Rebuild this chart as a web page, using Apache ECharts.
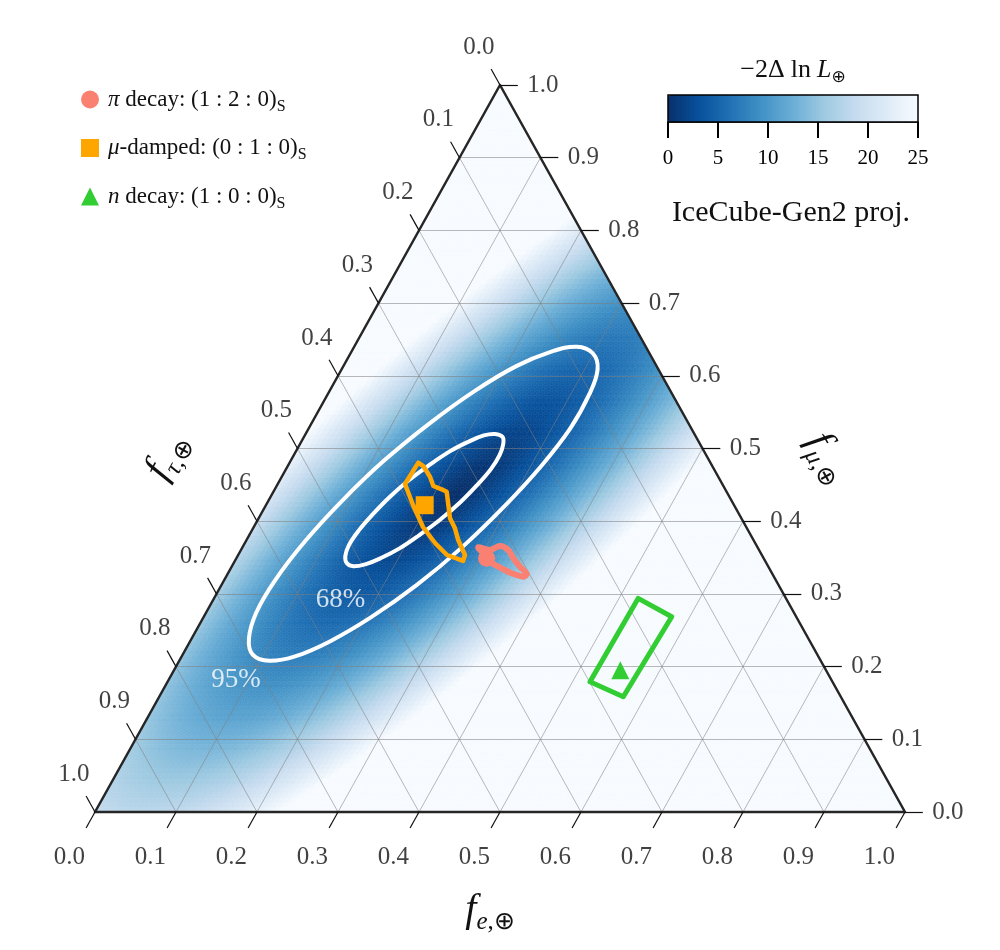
<!DOCTYPE html>
<html>
<head>
<meta charset="utf-8">
<script src="https://cdn.jsdelivr.net/npm/echarts@6/dist/echarts.min.js"></script>
<style>
  html, body { margin: 0; padding: 0; background: #fff; }
  #chart { width: 1000px; height: 950px; }
</style>
</head>
<body>
<div id="chart"></div>
<script>
// points are [f_e, f_mu]; f_tau = 1 - f_e - f_mu
var ticks = [0, 0.1, 0.2, 0.3, 0.4, 0.5, 0.6, 0.7, 0.8, 0.9, 1.0];
var tickLabels = ["0.0", "0.1", "0.2", "0.3", "0.4", "0.5", "0.6", "0.7", "0.8", "0.9", "1.0"];
var cbTicks = [0, 5, 10, 15, 20, 25];

// likelihood surface: minimum, two axis vectors ([f_e, f_mu]) and growth
var fieldCenter = [0.229, 0.440];
var fieldMajor = [0.113, 0.2215];
var fieldMinor = [0.078, -0.060];
var fieldScale = 7.7;
var fieldPower = 1.29;

var contour95 = [[0.299, 0.631], [0.316, 0.609], [0.323, 0.574], [0.323, 0.528], [0.313, 0.476], [0.295, 0.420],
  [0.271, 0.364], [0.241, 0.312], [0.207, 0.268], [0.173, 0.235], [0.140, 0.214], [0.111, 0.208],
  [0.087, 0.216], [0.071, 0.238], [0.062, 0.274], [0.063, 0.319], [0.073, 0.372], [0.091, 0.428],
  [0.115, 0.483], [0.146, 0.535], [0.179, 0.579], [0.213, 0.613], [0.246, 0.633], [0.275, 0.640]];
var contour68 = [[0.245, 0.516], [0.251, 0.506], [0.254, 0.491], [0.253, 0.472], [0.247, 0.450], [0.238, 0.426],
  [0.225, 0.402], [0.210, 0.381], [0.195, 0.363], [0.178, 0.349], [0.164, 0.341], [0.150, 0.338],
  [0.140, 0.342], [0.133, 0.352], [0.130, 0.367], [0.132, 0.387], [0.138, 0.409], [0.147, 0.433],
  [0.159, 0.456], [0.174, 0.477], [0.190, 0.496], [0.206, 0.509], [0.221, 0.518], [0.234, 0.520]];

var muDampedRegion = [[0.1589, 0.4805], [0.1571, 0.4512], [0.1815, 0.4223], [0.2089, 0.3920], [0.2348, 0.3700],
  [0.2578, 0.3535], [0.2817, 0.3453], [0.2800, 0.3535], [0.2614, 0.3741], [0.2493, 0.3902], [0.2363, 0.4040],
  [0.2251, 0.4223], [0.2139, 0.4406], [0.2061, 0.4439], [0.1935, 0.4484], [0.1830, 0.4612], [0.1673, 0.4759]];
var piDecayRegion = [[0.2912, 0.3641], [0.3075, 0.3604], [0.3171, 0.3659], [0.3300, 0.3604], [0.3419, 0.3490],
  [0.3560, 0.3374], [0.3693, 0.3274], [0.3670, 0.3237], [0.3502, 0.3283], [0.3345, 0.3352], [0.3239, 0.3398],
  [0.3123, 0.3466], [0.2984, 0.3580]];
var nDecayRegion = [[0.5237, 0.2939], [0.5777, 0.2686], [0.5729, 0.1586], [0.5215, 0.1792]];

var piDecayPoint = [0.309, 0.349];
var muDampedPoint = [0.196, 0.422];
var nDecayPoint = [0.551, 0.195];

var levelNames = ["68%", "95%"];
var levelPos = [[0.157, 0.292], [0.083, 0.182]];

var legendText = {
  pi: "{i|π}{n| decay: (1 : 2 : 0)}{s|S}",
  mu: "{i|μ}{n|-damped: (0 : 1 : 0)}{s|S}",
  n: "{i|n}{n| decay: (1 : 0 : 0)}{s|S}"
};

var serif = "Liberation Serif";
var blues = ["#08306b", "#08519c", "#2171b5", "#4292c6", "#6baed6", "#9ecae1", "#c6dbef", "#deebf7", "#f7fbff"];

function tern(fe, fmu) {
  return [fe + fmu / 2, fmu];
}

function likelihood(fe, fmu) {
  var dFe = fe - fieldCenter[0], dMu = fmu - fieldCenter[1];
  var det = fieldMajor[0] * fieldMinor[1] - fieldMajor[1] * fieldMinor[0];
  var s = (dFe * fieldMinor[1] - dMu * fieldMinor[0]) / det;
  var t = (fieldMajor[0] * dMu - fieldMajor[1] * dFe) / det;
  return fieldScale * Math.pow(Math.sqrt(s * s + t * t), fieldPower);
}

// triangular mesh for the likelihood map
var meshN = 150, cells = [];
for (var i = 0; i < meshN; i++) {
  for (var j = 0; i + j < meshN; j++) {
    var h = 1 / meshN, fe = i * h, fmu = j * h;
    cells.push([fe, fmu, 1, Math.min(25, likelihood(fe + h / 3, fmu + h / 3))]);
    if (i + j < meshN - 1) cells.push([fe, fmu, 0, Math.min(25, likelihood(fe + 2 * h / 3, fmu + 2 * h / 3))]);
  }
}

function renderCell(params, api) {
  var fe = api.value(0), fmu = api.value(1), h = 1 / meshN;
  var pts = api.value(2) ? [[fe, fmu], [fe + h, fmu], [fe, fmu + h]]
                         : [[fe + h, fmu], [fe, fmu + h], [fe + h, fmu + h]];
  pts = pts.map(function (p) { return api.coord(tern(p[0], p[1])); });
  var c = api.visual("color");
  return { type: "polygon", shape: { points: pts }, style: { fill: c, stroke: c, lineWidth: 0.6 } };
}

function outline(shapes, color, width, smooth, z) {
  return {
    type: "custom", coordinateSystem: "cartesian2d", silent: true, z: z,
    data: shapes.map(function (s, k) { return [k, 0]; }),
    renderItem: function (params, api) {
      var pts = shapes[params.dataIndex].map(function (p) { return api.coord(tern(p[0], p[1])); });
      return {
        type: "polygon", shape: { points: pts, smooth: smooth },
        style: { fill: "none", stroke: color, lineWidth: width, lineJoin: "round" }
      };
    }
  };
}

// grid lines, ticks and tick labels
var tickLen = 0.022;
var gridLines = [], tickSegs = [], tickText = [];
ticks.forEach(function (v, k) {
  if (k > 0 && k < ticks.length - 1) {
    gridLines.push({ coords: [tern(0, v), tern(1 - v, v)] });
    gridLines.push({ coords: [tern(v, 0), tern(v, 1 - v)] });
    gridLines.push({ coords: [tern(1 - v, 0), tern(0, 1 - v)] });
  }
  // f_e along the bottom
  tickSegs.push({ coords: [tern(v, 0), tern(v, -tickLen)] });
  tickText.push({ name: tickLabels[k], value: tern(v, -0.063) });
  // f_mu along the right side
  tickSegs.push({ coords: [tern(1 - v, v), tern(1 - v + tickLen, v)] });
  tickText.push({ name: tickLabels[k], value: tern(1 - v + 0.053, v) });
  // f_tau along the left side
  tickSegs.push({ coords: [tern(0, 1 - v), tern(-tickLen, 1 - v + tickLen)] });
  tickText.push({ name: tickLabels[k], value: tern(-0.052, 1 - v + 0.052) });
});

var chart = echarts.init(document.getElementById("chart"));

var subRich = {
  f: { fontFamily: serif, fontStyle: "italic", fontSize: 40, lineHeight: 50, verticalAlign: "middle" },
  si: { fontFamily: serif, fontStyle: "italic", fontSize: 25, lineHeight: 26, verticalAlign: "bottom" },
  s: { fontFamily: serif, fontSize: 25, lineHeight: 26, verticalAlign: "bottom" }
};

var option = {
  animation: false,
  backgroundColor: "#fff",
  grid: [
    { left: 95, top: 85, width: 810, height: 727 },
    { left: 668, top: 95, width: 250, height: 27 }
  ],
  xAxis: [
    { type: "value", min: 0, max: 1, show: false, gridIndex: 0 },
    {
      type: "value", min: 0, max: 25, interval: 5, gridIndex: 1,
      axisLine: { show: true, lineStyle: { color: "#000", width: 1.5 } },
      axisTick: { show: true, length: 16, lineStyle: { color: "#000", width: 2 } },
      axisLabel: { color: "#000", fontFamily: serif, fontSize: 21, margin: 26 },
      splitLine: { show: false }
    }
  ],
  yAxis: [
    { type: "value", min: 0, max: 1, show: false, gridIndex: 0 },
    { type: "value", min: 0, max: 1, show: false, gridIndex: 1 }
  ],
  visualMap: {
    type: "continuous", min: 0, max: 25, dimension: 3, seriesIndex: 0,
    orient: "horizontal", left: 668, top: 95, itemWidth: 27, itemHeight: 250,
    padding: 0, calculable: false, hoverLink: false,
    inRange: { color: blues }
  },
  legend: {
    data: ["pi", "mu", "n"],
    orient: "vertical", left: 81, top: 88, padding: 0,
    itemWidth: 18, itemHeight: 18, itemGap: 22,
    selectedMode: false,
    formatter: function (name) { return legendText[name]; },
    textStyle: {
      color: "#111",
      rich: {
        i: { fontFamily: serif, fontStyle: "italic", fontSize: 23, lineHeight: 30, verticalAlign: "middle", padding: [0, 0, 0, 4] },
        n: { fontFamily: serif, fontSize: 23, lineHeight: 30, verticalAlign: "middle" },
        s: { fontFamily: serif, fontSize: 16, lineHeight: 17, verticalAlign: "bottom" }
      }
    }
  },
  graphic: [
    { type: "rect", z: 100, shape: { x: 668, y: 95, width: 250, height: 27 },
      style: { fill: "none", stroke: "#000", lineWidth: 1.5 } },
    { type: "text", x: 793, y: 70, z: 100,
      style: {
        text: "{n|−2Δ}{l|ln}{i|L}{s|⊕}", align: "center", verticalAlign: "middle", fill: "#111",
        rich: {
          n: { fontFamily: serif, fontSize: 26, lineHeight: 32, verticalAlign: "middle" },
          l: { fontFamily: serif, fontSize: 26, lineHeight: 32, verticalAlign: "middle", padding: [0, 0, 0, 6] },
          i: { fontFamily: serif, fontStyle: "italic", fontSize: 26, lineHeight: 32, verticalAlign: "middle", padding: [0, 0, 0, 6] },
          s: { fontFamily: "DejaVu Sans", fontSize: 17, lineHeight: 19, verticalAlign: "bottom" }
        }
      } },
    { type: "text", x: 791, y: 213, z: 100,
      style: { text: "IceCube-Gen2 proj.", align: "center", verticalAlign: "middle", fill: "#111",
        font: "30px 'Liberation Serif'" } },
    { type: "text", x: 490, y: 910, z: 100,
      style: { text: "{f|f}{si|e}{s|,⊕}", align: "center", verticalAlign: "middle", fill: "#111", rich: subRich } },
    { type: "text", x: 828, y: 458, z: 100, rotation: -1.063,
      style: { text: "{f|f}{si|μ}{s|,⊕}", align: "center", verticalAlign: "middle", fill: "#111", rich: subRich } },
    { type: "text", x: 167, y: 456, z: 100, rotation: 1.063,
      style: { text: "{f|f}{si|τ}{s|,⊕}", align: "center", verticalAlign: "middle", fill: "#111", rich: subRich } }
  ],
  series: [
    {
      type: "custom", coordinateSystem: "cartesian2d", data: cells, renderItem: renderCell,
      silent: true, z: 1, progressive: 0
    },
    {
      type: "lines", coordinateSystem: "cartesian2d", data: gridLines, silent: true, z: 2,
      lineStyle: { color: "#808080", width: 1, opacity: 0.55 }
    },
    outline([[[0, 0], [1, 0], [0, 1]]], "#262626", 2.5, 0, 3),
    {
      type: "lines", coordinateSystem: "cartesian2d", data: tickSegs, silent: true, z: 3, clip: false,
      lineStyle: { color: "#111", width: 1.2, opacity: 1 }
    },
    {
      type: "scatter", data: tickText, symbolSize: 0, silent: true, z: 3, clip: false,
      label: { show: true, position: "inside", formatter: "{b}", color: "#111", fontFamily: serif, fontSize: 25 }
    },
    outline([contour95, contour68], "#ffffff", 4, 0.4, 4),
    outline([muDampedRegion], "#ffa500", 4.5, 0, 5),
    outline([piDecayRegion], "#fa8072", 6, 0.3, 5),
    outline([nDecayRegion], "#32cd32", 5, 0, 5),
    {
      name: "pi", type: "scatter", symbol: "circle", symbolSize: 17, z: 6,
      itemStyle: { color: "#fa8072", opacity: 1 }, data: [tern(piDecayPoint[0], piDecayPoint[1])]
    },
    {
      name: "mu", type: "scatter", symbol: "rect", symbolSize: 18, z: 6,
      itemStyle: { color: "#ffa500", opacity: 1 }, data: [tern(muDampedPoint[0], muDampedPoint[1])]
    },
    {
      name: "n", type: "scatter", symbol: "triangle", symbolSize: 18, z: 6,
      itemStyle: { color: "#32cd32", opacity: 1 }, data: [tern(nDecayPoint[0], nDecayPoint[1])]
    },
    {
      type: "scatter", symbolSize: 0, silent: true, z: 6,
      data: levelNames.map(function (nm, k) { return { name: nm, value: tern(levelPos[k][0], levelPos[k][1]) }; }),
      label: { show: true, position: "inside", formatter: "{b}", color: "#fff", fontFamily: serif, fontSize: 27 }
    }
  ]
};

chart.setOption(option);
</script>
</body>
</html>
